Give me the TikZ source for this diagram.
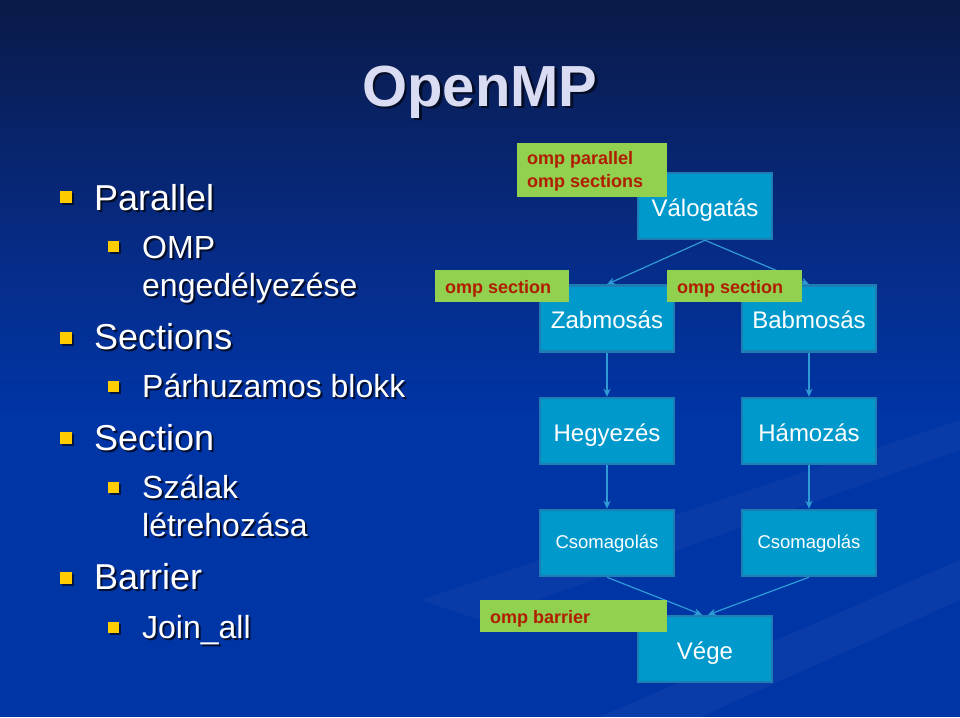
\documentclass[tikz,border=0pt]{standalone}
\usepackage{fontspec}
\setmainfont{Liberation Sans}
\usetikzlibrary{arrows.meta,shadows}
\definecolor{bgtop}{HTML}{0A1A48}
\definecolor{bgmid}{HTML}{062C88}
\definecolor{bgbot}{HTML}{0035A6}
\definecolor{boxfill}{HTML}{0099CC}
\definecolor{boxline}{HTML}{1E7DB4}
\definecolor{lblfill}{HTML}{92D050}
\definecolor{lbltext}{HTML}{B01E00}
\definecolor{arrowc}{HTML}{2E9BD6}
\definecolor{bulletc}{HTML}{FFCC00}
\definecolor{titlec}{HTML}{D9DCF2}
\tikzset{
  taskbox/.style={draw=boxline, line width=2.5pt, fill=boxfill, minimum width=134pt, minimum height=66pt, inner sep=0pt, text=white, text depth=0pt},
  bigtask/.style={taskbox, font=\fontsize{24}{26}\selectfont, text height=20pt},
  smalltask/.style={taskbox, font=\fontsize{18.5}{20}\selectfont, text height=11pt},
  lblbox/.style={fill=lblfill, inner sep=0pt, anchor=north west},
  lbltxt/.style={text=lbltext, font=\bfseries\fontsize{18}{23}\selectfont, inner sep=0pt, anchor=base west},
  flow/.style={draw=arrowc, line width=1.2pt, -{Stealth[length=8pt,width=7pt]}},
  bigbul/.style={fill=bulletc, minimum size=12pt, inner sep=0pt, drop shadow={shadow xshift=1.5pt,shadow yshift=-1.5pt,opacity=0.6,fill=black}},
  smallbul/.style={fill=bulletc, minimum size=11pt, inner sep=0pt, drop shadow={shadow xshift=1.5pt,shadow yshift=-1.5pt,opacity=0.6,fill=black}},
  lvlone/.style={anchor=base west, inner sep=0pt, text=white, font=\fontsize{36}{40}\selectfont},
  lvltwo/.style={anchor=base west, inner sep=0pt, text=white, font=\fontsize{32}{36}\selectfont},
  shad/.style={text=black, opacity=0.7}
}
\newcommand{\shtext}[5]{%
  \node[#1, shad] at (#2+2,#3+2) {#5};
  \node[#1] (#4) at (#2,#3) {#5};}
\begin{document}
\begin{tikzpicture}[x=1pt,y=-1pt]
\useasboundingbox (0,0) rectangle (960,717);
\fill[bgbot] (0,0) rectangle (960,717);
\shade[top color=bgtop, bottom color=bgmid] (0,0) rectangle (960,260);
\shade[top color=bgmid, bottom color=bgbot] (0,260) rectangle (960,420);
% subtle streaks
\fill[white, opacity=0.04] (600,717) -- (960,560) -- (960,600) -- (700,717) -- cycle;
\fill[white, opacity=0.03] (420,600) -- (960,420) -- (960,450) -- (480,620) -- cycle;

% title
\node[font=\bfseries\fontsize{58}{60}\selectfont, text=black, opacity=0.6] at (482.5,94.5) {OpenMP};
\node[font=\bfseries\fontsize{58}{60}\selectfont, text=titlec] (title) at (480,92) {OpenMP};

% bullet list
\node[bigbul] (b1) at (66,197) {};
\shtext{lvlone}{94}{210}{t1}{Parallel}
\node[smallbul] (b2) at (113.5,246.5) {};
\shtext{lvltwo}{142}{258}{t2}{OMP}
\shtext{lvltwo}{142}{296}{t3}{engedélyezése}
\node[bigbul] (b3) at (66,338) {};
\shtext{lvlone}{94}{349}{t4}{Sections}
\node[smallbul] (b4) at (113.5,386.5) {};
\shtext{lvltwo}{142}{397}{t5}{Párhuzamos blokk}
\node[bigbul] (b5) at (66,438) {};
\shtext{lvlone}{94}{450}{t6}{Section}
\node[smallbul] (b6) at (113.5,487.5) {};
\shtext{lvltwo}{142}{498}{t7}{Szálak}
\shtext{lvltwo}{142}{536}{t8}{létrehozása}
\node[bigbul] (b7) at (66,578) {};
\shtext{lvlone}{94}{589}{t9}{Barrier}
\node[smallbul] (b8) at (113.5,627.5) {};
\shtext{lvltwo}{142}{638}{t10}{Join\_all}

% task boxes
\node[bigtask] (val) at (705,206) {Válogatás};
\node[bigtask] (zab) at (607,318.5) {Zabmosás};
\node[bigtask] (bab) at (809,318.5) {Babmosás};
\node[bigtask] (heg) at (607,431) {Hegyezés};
\node[bigtask] (ham) at (809,431) {Hámozás};
\node[smalltask] (cs1) at (607,543) {Csomagolás};
\node[smalltask] (cs2) at (809,543) {Csomagolás};
\node[bigtask] (vege) at (705,649) {Vége};

% connectors
\draw[flow] (val.south) -- (zab.north);
\draw[flow] (val.south) -- (bab.north);
\draw[flow] (zab.south) -- (heg.north);
\draw[flow] (bab.south) -- (ham.north);
\draw[flow] (heg.south) -- (cs1.north);
\draw[flow] (ham.south) -- (cs2.north);
\draw[flow] (cs1.south) -- ([xshift=-3pt]vege.north);
\draw[flow] (cs2.south) -- ([xshift=3pt]vege.north);

% labels
\node[lblbox, minimum width=150pt, minimum height=54pt] (l1) at (517,143) {};
\node[lbltxt] (l1a) at (527,164) {omp parallel};
\node[lbltxt] (l1b) at (527,187) {omp sections};
\node[lblbox, minimum width=134pt, minimum height=32pt] (l2) at (435,270) {};
\node[lbltxt] (l2a) at (445,293) {omp section};
\node[lblbox, minimum width=135pt, minimum height=32pt] (l3) at (667,270) {};
\node[lbltxt] (l3a) at (677,293) {omp section};
\node[lblbox, minimum width=187pt, minimum height=32pt] (l4) at (480,600) {};
\node[lbltxt] (l4a) at (490,623) {omp barrier};
\end{tikzpicture}
\end{document}
